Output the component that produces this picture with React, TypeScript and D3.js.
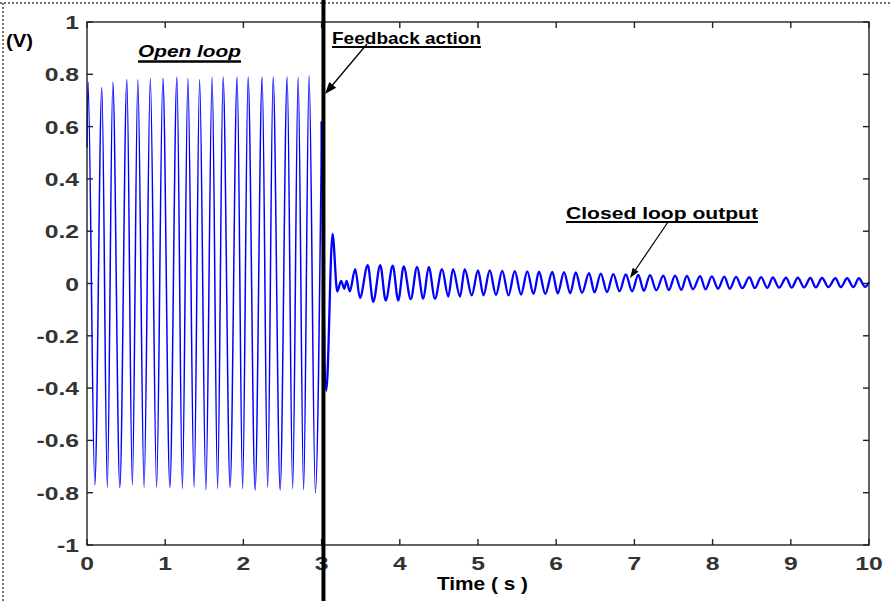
import React from "react";
import * as d3 from "d3";

const xTickValues = [0, 1, 2, 3, 4, 5, 6, 7, 8, 9, 10];
const xTickLabels = ["0", "1", "2", "3", "4", "5", "6", "7", "8", "9", "10"];
const yTickValues = [-1, -0.8, -0.6, -0.4, -0.2, 0, 0.2, 0.4, 0.6, 0.8, 1];
const yTickLabels = ["-1", "-0.8", "-0.6", "-0.4", "-0.2", "0", "0.2", "0.4", "0.6", "0.8", "1"];

// Open loop response (extreme points)
const openTimes = [0, 0.013, 0.10, 0.19, 0.26, 0.33, 0.42, 0.51, 0.58, 0.65, 0.73, 0.81, 0.89, 0.97, 1.06, 1.15, 1.22, 1.29, 1.37, 1.44, 1.52, 1.60, 1.67, 1.74, 1.83, 1.92, 1.99, 2.06, 2.15, 2.24, 2.31, 2.38, 2.47, 2.56, 2.63, 2.70, 2.77, 2.84, 2.92, 3.00];
const openValues = [0.52, 0.77, -0.77, 0.75, -0.78, 0.77, -0.78, 0.78, -0.77, 0.78, -0.78, 0.785, -0.78, 0.785, -0.78, 0.79, -0.785, 0.785, -0.78, 0.78, -0.79, 0.79, -0.785, 0.79, -0.78, 0.79, -0.785, 0.79, -0.79, 0.79, -0.78, 0.79, -0.79, 0.79, -0.785, 0.79, -0.79, 0.795, -0.80, 0.62];

// Closed loop response
const closedTimes = [3.00, 3.06, 3.14, 3.20, 3.25, 3.29, 3.32, 3.36, 3.43, 3.49, 3.59, 3.66, 3.75, 3.82, 3.91, 3.98, 4.05, 4.14, 4.22, 4.30, 4.37, 4.45, 4.54, 4.62, 4.68, 4.77, 4.83, 4.92, 5.00, 5.07, 5.15, 5.23, 5.31, 5.39, 5.47, 5.55, 5.63, 5.71, 5.78, 5.86, 5.95, 6.02, 6.10, 6.18, 6.25, 6.33, 6.42, 6.49, 6.57, 6.65, 6.73, 6.81, 6.89, 6.97, 7.05, 7.12, 7.20, 7.28, 7.37, 7.44, 7.52, 7.60, 7.67, 7.75, 7.84, 7.91, 7.99, 8.07, 8.15, 8.22, 8.30, 8.38, 8.47, 8.54, 8.62, 8.70, 8.77, 8.85, 8.94, 9.01, 9.09, 9.17, 9.25, 9.32, 9.40, 9.48, 9.57, 9.64, 9.72, 9.80, 9.87, 9.95, 10.0];
const closedValues = [0.62, -0.41, 0.19, -0.03, 0.01, -0.02, 0.01, -0.03, 0.055, -0.055, 0.07, -0.07, 0.07, -0.065, 0.068, -0.065, 0.065, -0.06, 0.063, -0.058, 0.063, -0.058, 0.055, -0.05, 0.055, -0.05, 0.055, -0.045, 0.05, -0.045, 0.05, -0.044, 0.048, -0.045, 0.047, -0.042, 0.046, -0.04, 0.045, -0.04, 0.044, -0.038, 0.043, -0.037, 0.042, -0.036, 0.04, -0.034, 0.038, -0.033, 0.036, -0.03, 0.035, -0.03, 0.033, -0.028, 0.032, -0.026, 0.03, -0.025, 0.03, -0.024, 0.029, -0.022, 0.028, -0.022, 0.027, -0.02, 0.026, -0.02, 0.025, -0.018, 0.024, -0.018, 0.024, -0.017, 0.023, -0.016, 0.022, -0.016, 0.022, -0.015, 0.021, -0.015, 0.021, -0.014, 0.02, -0.014, 0.02, -0.014, 0.02, -0.013, 0.005];

const feedbackTime = 3.03;

const W = 892;
const H = 601;
const FONT = "'Liberation Sans', Arial, Helvetica, sans-serif";

function arrowHead(x1: number, y1: number, x2: number, y2: number, len: number, half: number) {
  const dx = x2 - x1;
  const dy = y2 - y1;
  const d = Math.sqrt(dx * dx + dy * dy);
  const ux = dx / d;
  const uy = dy / d;
  const bx = x2 - ux * len;
  const by = y2 - uy * len;
  return `${x2},${y2} ${bx - uy * half},${by + ux * half} ${bx + uy * half},${by - ux * half}`;
}

export default function App() {
  const x = d3.scaleLinear().domain([0, 10]).range([87, 869]);
  const y = d3.scaleLinear().domain([-1, 1]).range([545, 22]);

  const line = d3
    .line<[number, number]>()
    .x((d) => x(d[0]))
    .y((d) => y(d[1]))
    .curve(d3.curveMonotoneX);

  const openData: [number, number][] = openTimes.map((t, i) => [t, openValues[i]]);
  const closedData: [number, number][] = closedTimes.map((t, i) => [t, closedValues[i]]);

  const axisColor = "#222";
  const tickColor = "#333";
  const fbX = x(feedbackTime) - 0.5;

  return (
    <svg
      width={W}
      height={H}
      style={{ position: "absolute", left: 0, top: 0, background: "#fff" }}
      fontFamily={FONT}
    >
      {/* dotted frame */}
      <line x1={0} y1={3} x2={890} y2={3} stroke="#444" strokeWidth={1.5} strokeDasharray="2,2" />
      <line x1={3} y1={3} x2={3} y2={H} stroke="#444" strokeWidth={1.5} strokeDasharray="2,2" />

      {/* signal */}
      <path d={line(openData) || ""} fill="none" stroke="#0000ff" strokeWidth={1.5} />
      <path d={line(closedData) || ""} fill="none" stroke="#0000ff" strokeWidth={2.3} strokeLinejoin="round" />

      {/* axes box */}
      <rect x={x(0)} y={y(1)} width={x(10) - x(0)} height={y(-1) - y(1)} fill="none" stroke={axisColor} strokeWidth={1.4} />
      {xTickValues.map((v) => (
        <g key={"xt" + v}>
          <line x1={x(v)} x2={x(v)} y1={y(-1)} y2={y(-1) - 6} stroke={axisColor} strokeWidth={1.4} />
          <line x1={x(v)} x2={x(v)} y1={y(1)} y2={y(1) + 6} stroke={axisColor} strokeWidth={1.4} />
        </g>
      ))}
      {yTickValues.map((v) => (
        <g key={"yt" + v}>
          <line x1={x(0)} x2={x(0) + 6} y1={y(v)} y2={y(v)} stroke={axisColor} strokeWidth={1.4} />
          <line x1={x(10)} x2={x(10) - 6} y1={y(v)} y2={y(v)} stroke={axisColor} strokeWidth={1.4} />
        </g>
      ))}
      {xTickValues.map((v, i) => (
        <text
          key={"xl" + v}
          transform={`translate(${x(v)},570) scale(1.3,1)`}
          textAnchor="middle"
          fontSize={19}
          fontWeight="bold"
          fill={tickColor}
        >
          {xTickLabels[i]}
        </text>
      ))}
      {yTickValues.map((v, i) => (
        <text
          key={"yl" + v}
          transform={`translate(79,${y(v) + 7}) scale(1.3,1)`}
          textAnchor="end"
          fontSize={19}
          fontWeight="bold"
          fill={tickColor}
        >
          {yTickLabels[i]}
        </text>
      ))}

      {/* feedback line */}
      <line x1={fbX} x2={fbX} y1={0} y2={H} stroke="#000" strokeWidth={4} />

      {/* labels */}
      <text x={6} y={47} fontSize={18} fontWeight="bold" fill="#000" textLength={27} lengthAdjust="spacingAndGlyphs">(V)</text>
      <text x={437} y={590} fontSize={18} fontWeight="bold" fill="#000" textLength={91} lengthAdjust="spacingAndGlyphs">Time ( s )</text>

      <text x={138} y={57} fontSize={17} fontWeight="bold" fontStyle="italic" fill="#000" textLength={103} lengthAdjust="spacingAndGlyphs">Open loop</text>
      <line x1={138} x2={241} y1={61.5} y2={61.5} stroke="#000" strokeWidth={2.5} />

      <text x={332} y={44} fontSize={17} fontWeight="bold" fill="#000" textLength={149} lengthAdjust="spacingAndGlyphs">Feedback action</text>
      <line x1={332} x2={481} y1={47} y2={47} stroke="#000" strokeWidth={2} />
      <line x1={367} y1={44} x2={330} y2={88} stroke="#000" strokeWidth={1.3} />
      <polygon points={arrowHead(367, 44, 325, 94, 12, 4.5)} fill="#000" />

      <text x={566} y={219} fontSize={17} fontWeight="bold" fill="#000" textLength={192} lengthAdjust="spacingAndGlyphs">Closed loop output</text>
      <line x1={566} x2={758} y1={222} y2={222} stroke="#000" strokeWidth={2} />
      <line x1={668} y1={222} x2={634} y2={272} stroke="#000" strokeWidth={1.2} />
      <polygon points={arrowHead(668, 222, 630, 278, 10, 3.5)} fill="#000" />
    </svg>
  );
}
